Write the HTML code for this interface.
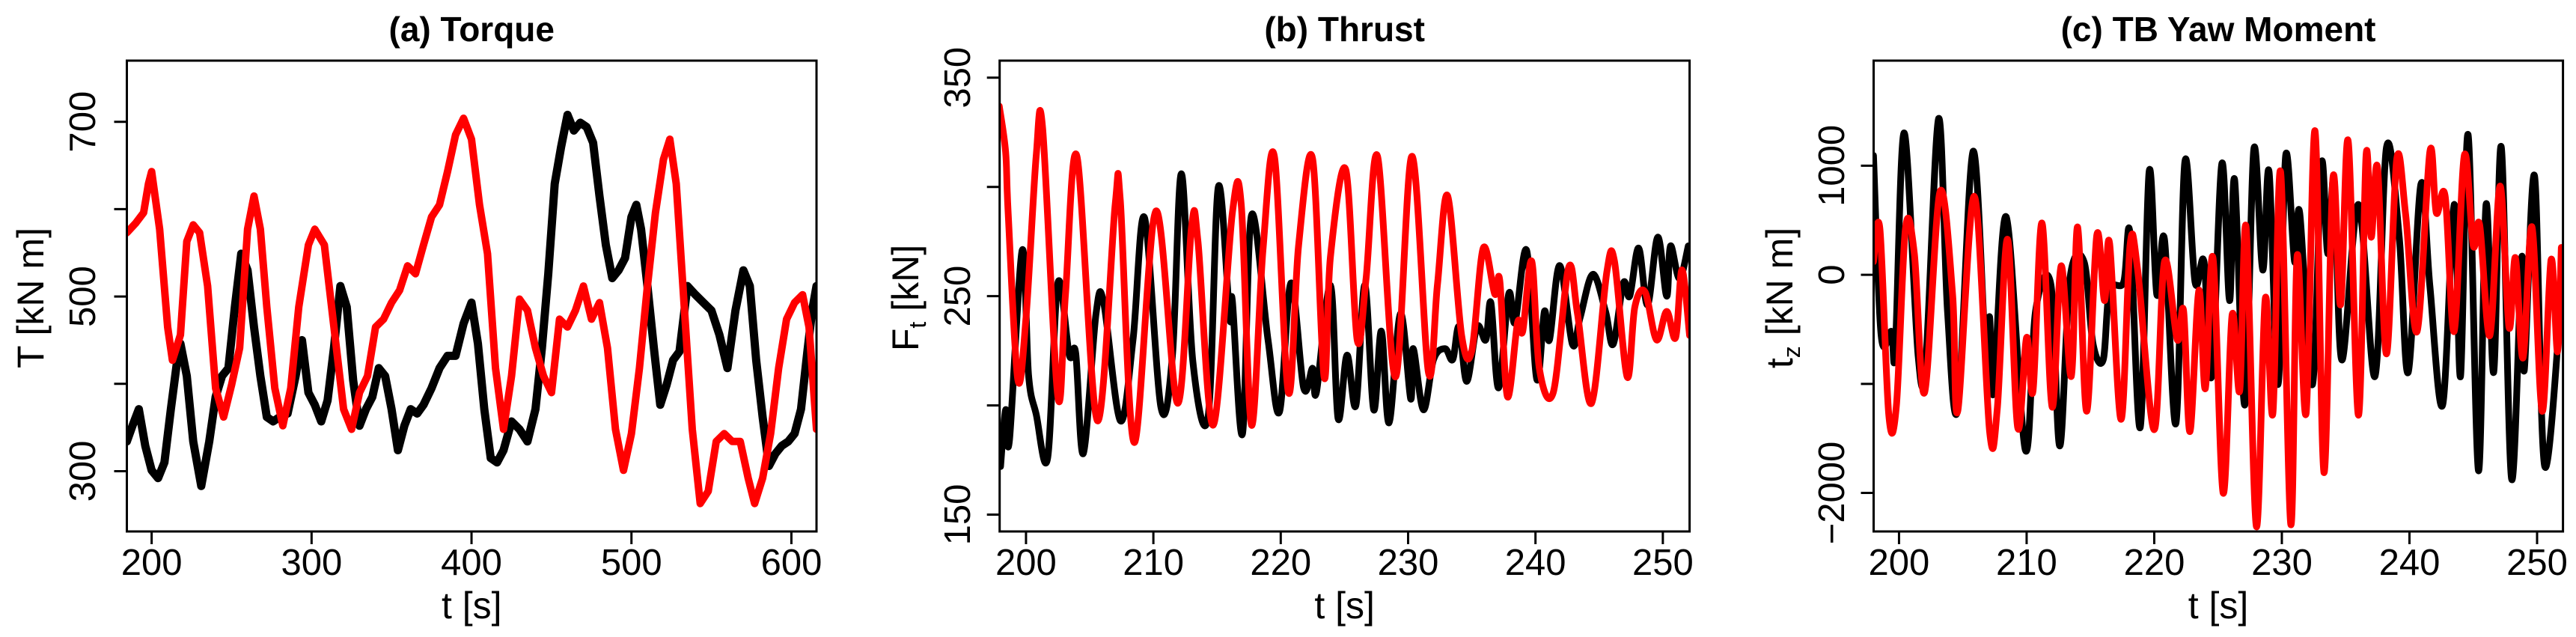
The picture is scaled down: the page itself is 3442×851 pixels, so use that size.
<!DOCTYPE html>
<html><head><meta charset="utf-8"><style>
html,body{margin:0;padding:0;background:#fff;}
svg{display:block;font-family:"Liberation Sans",Arial,sans-serif;}
</style></head><body>
<svg id="chart" width="3442" height="851" viewBox="0 0 3442 851" xmlns="http://www.w3.org/2000/svg"></svg>
<script>
// ---- Panel (a) Torque ----
const torqueRedT = [184.5,190,195,198,200,205,210,213,218,222,226,230,235,240,245,250,255,260,264,268,272,277,282,287,292,298,302,308,314,320,325,330,335,340,345,350,355,360,365,370,375,380,385,390,395,400,405,410,415,420,425,430,435,440,445,450,455,460,465,470,475,480,485,490,495,500,505,510,515,520,524,528,533,538,543,548,553,558,563,568,573,577,582,587,592,597,602,607,611,615.7];
const torqueRedV = [573,584,596,629,643,577,465,427,456,563,582,573,512,395,362,399,441,577,615,577,488,395,352,395,488,559,577,559,465,371,348,390,409,465,474,493,507,535,526,559,591,605,643,685,704,680,605,549,418,348,409,497,484,441,409,390,474,465,484,512,474,493,441,348,301,343,418,512,596,657,680,629,488,348,263,277,334,343,334,334,292,263,292,343,418,474,493,502,465,348];
const torqueBlackT = [184.5,188,192,196,200,204,208,212,216,218,222,226,231,236,240,244,248,252,256,260,264,268,272,276,280,285,290,294,298,302,306,310,314,318,322,326,330,334,338,342,346,350,354,358,362,366,370,375,380,385,390,395,400,404,408,412,416,420,425,430,435,440,444,448,452,456,460,464,468,472,476,480,484,488,492,496,500,503,506,510,514,518,522,526,530,535,540,545,550,555,560,565,570,574,578,582,586,590,594,598,602,606,610,613,615.7];
const torqueBlackV = [334,352,371,329,301,292,310,371,427,446,409,334,283,334,385,409,418,488,549,530,465,409,362,357,362,366,409,450,390,376,357,381,441,512,488,404,352,371,385,418,409,371,324,352,371,366,376,395,418,432,432,469,493,446,371,315,310,324,357,348,334,371,441,526,629,671,708,690,699,694,676,615,559,521,530,544,591,605,577,512,441,376,399,427,437,512,502,493,484,456,418,484,530,512,427,362,306,320,329,334,343,371,437,484,512];
const torqueXTicks = [200,300,400,500,600];
const torqueYTicks = [300,400,500,600,700];
const torqueYLabels = ["300","","500","","700"];

// ---- Panel (b) Thrust ----
const thrustRedT = [197.9,198.4,198.6,199.35,200,200.8,201.3,202.5,203.1,204.0,205.6,207.0,207.4,208.5,210.2,211.9,213.0,213.5,214.7,216.2,216.9,217.7,218.6,219.5,220.6,221.4,222.5,223.4,223.9,225.1,226.0,226.7,227.6,229.0,230.3,231.6,232.3,233.1,234.2,235.0,235.9,236.8,237.2,237.8,238.6,239.0,239.7,240.3,241.4,242.6,243.3,244.4,245.6,246.2,247.2,247.8,248.6,249.5,250.3,251.0,251.5,252.1];
const thrustRedV = [337,316,288,212,240,314,327,204,251,314,193,292,294,183,289,201,282,275,191,288,292,191,271,314,206,273,313,213,268,308,230,258,314,213,314,215,255,296,232,225,272,251,257,204,238,234,266,217,206,263,242,201,261,266,213,245,252,230,243,231,262,232];
const thrustBlackT = [198.0,198.4,198.7,199.7,200.2,200.8,201.7,202.5,203.4,203.9,204.5,205.5,206.1,207.4,208.4,209.3,210.6,211.5,212.2,213.1,214.3,215.1,216.0,216.2,217.0,217.7,219.0,219.9,220.8,221.8,222.5,222.8,223.9,224.5,225.2,225.9,226.6,227.3,227.9,228.5,229.4,230.2,230.4,231.2,232.0,232.9,233.5,234.0,234.6,235.4,236.1,236.5,237.1,237.9,238.4,239.3,240.1,240.7,241.1,241.9,242.9,243.5,244.5,245.5,246.1,246.9,247.4,248.1,248.8,249.6,250.3,250.6,251.3,252.0];
const thrustBlackV = [172,198,184,271,214,196,176,256,223,224,178,242,247,193,230,286,199,223,306,220,195,300,240,248,187,287,230,197,256,208,217,206,255,194,223,200,255,198,234,192,242,203,226,198,221,226,221,236,211,236,230,247,208,251,238,271,212,243,230,264,228,240,260,243,228,256,250,272,246,277,250,273,258,273];
const thrustXTicks = [200,210,220,230,240,250];
const thrustYTicks = [150,200,250,300,350];
const thrustYLabels = ["150","","250","","350"];

// ---- Panel (c) TB Yaw Moment ----
const yawBlackT = [198.0,198.6,199.4,199.7,200.4,201.5,202.1,203.1,203.8,204.6,205.8,206.8,207.1,207.4,208.4,209.9,210.7,211.9,212.6,213.4,214.5,215.2,216.0,216.5,217.6,218.1,218.9,219.6,220.2,220.8,221.7,222.4,223.2,223.9,224.5,225.3,225.9,226.3,227.1,227.8,228.5,229.0,229.7,230.3,231.0,231.4,232.4,233.1,233.6,234.1,234.7,236.0,237.3,238.2,239.2,239.9,240.9,241.6,242.6,243.5,244.0,244.6,245.4,246.0,246.6,247.2,248.0,248.8,249.0,249.8,250.6,252.0];
const yawBlackV = [1094,-557,-519,-706,1300,-744,-781,1431,-332,-1231,1131,-744,-387,-1081,531,-1606,-332,-87,-1569,-31,119,-631,-781,-144,-69,381,-1400,944,-181,326,-1362,1037,-69,119,-931,1019,-237,869,-1194,1150,44,944,-1006,1094,119,569,-1006,1019,194,869,-781,644,-931,1169,344,-894,831,-106,-1194,644,-931,1281,-1794,644,-894,1169,-1869,156,-875,906,-1756,-31];
const yawRedT = [198.0,198.5,199.2,199.8,200.5,201.2,202.0,203.2,204.2,204.6,205.9,207.1,207.7,208.5,209.3,210.0,210.5,211.2,212.0,212.7,213.5,214.0,214.7,215.5,216.1,216.5,217.4,218.1,218.7,220.0,220.8,221.8,222.3,222.8,223.5,224.0,224.6,225.4,226.1,226.7,227.2,228.0,228.7,229.3,229.9,230.7,231.2,231.9,232.6,233.3,234.0,234.6,235.2,236.0,236.6,237.0,237.5,238.2,239.0,239.7,240.6,241.6,242.1,242.8,243.5,244.3,245.0,245.5,246.3,247.1,247.8,248.3,248.9,249.6,250.4,251.1,251.6,251.9];
const yawRedV = [119,419,-1287,-1194,419,194,-1081,756,-181,-1250,719,-1437,-1231,326,-1400,-576,-1062,475,-1212,81,-931,437,-1250,363,-237,288,-1325,269,44,-1419,119,-594,-332,-1437,-144,-1044,156,-2000,-369,-1062,437,-2306,-219,-1269,944,-2287,175,-1269,1319,-1812,887,-275,1225,-1287,1094,344,981,-725,1056,550,-519,1131,569,719,-519,1094,269,456,-557,813,-481,156,-762,437,-1250,138,-706,250];
const yawXTicks = [200,210,220,230,240,250];
const yawYTicks = [-2000,-1000,0,1000];
const yawYLabels = ["\u22122000","","0","1000"];

const NS = "http://www.w3.org/2000/svg";
const svg = document.getElementById('chart');
function mk(tag, attrs, parent) {
  const e = document.createElementNS(NS, tag);
  for (const k in attrs) e.setAttribute(k, attrs[k]);
  (parent || svg).appendChild(e);
  return e;
}
function smoothPath(pts) {
  let d = "M" + pts[0][0].toFixed(1) + "," + pts[0][1].toFixed(1);
  for (let i = 0; i < pts.length - 1; i++) {
    const p0 = pts[i - 1] || pts[i], p1 = pts[i], p2 = pts[i + 1], p3 = pts[i + 2] || p2;
    const c1x = p1[0] + (p2[0] - p0[0]) / 6, c1y = p1[1] + (p2[1] - p0[1]) / 6;
    const c2x = p2[0] - (p3[0] - p1[0]) / 6, c2y = p2[1] - (p3[1] - p1[1]) / 6;
    d += "C" + c1x.toFixed(1) + "," + c1y.toFixed(1) + " " + c2x.toFixed(1) + "," + c2y.toFixed(1) + " " + p2[0].toFixed(1) + "," + p2[1].toFixed(1);
  }
  return d;
}
function linePath(pts) {
  return pts.map((p, i) => (i ? "L" : "M") + p[0].toFixed(1) + "," + p[1].toFixed(1)).join("");
}

function panel(cfg) {
  const g = mk('g', {});
  
  
  const L = cfg.left, R = cfg.right, T = 81, B = 710;
  const xs = v => L + (v - cfg.xmin) / (cfg.xmax - cfg.xmin) * (R - L);
  const ys = v => B - (v - cfg.ymin) / (cfg.ymax - cfg.ymin) * (B - T);
  const cid = 'clip-' + cfg.name;
  const cp = mk('clipPath', { id: cid }, g);
  mk('rect', { x: L, y: T, width: R - L, height: B - T }, cp);

  cfg.series.forEach(s => {
    const pts = s.t.map((t, i) => [xs(t), ys(s.v[i])]);
    const p = mk('path', { d: s.smooth ? smoothPath(pts) : linePath(pts), fill: 'none', stroke: s.color, 'stroke-width': s.w, 'stroke-linejoin': 'round', 'stroke-linecap': 'round', 'clip-path': 'url(#' + cid + ')' }, g);
    
    
  });

  const fr = mk('rect', { x: L, y: T, width: R - L, height: B - T, fill: 'none', stroke: '#000', 'stroke-width': 3 }, g);
  
  

  cfg.xticks.forEach(v => {
    const x = xs(v);
    const tk = mk('line', { x1: x, y1: B, x2: x, y2: B + 17, stroke: '#000', 'stroke-width': 3 }, g);
    
    
    const tx = mk('text', { x: x, y: 768, 'font-size': 49, 'text-anchor': 'middle' }, g);
    tx.textContent = String(v);
    
    
  });
  cfg.yticks.forEach((v, i) => {
    const y = ys(v);
    const tk = mk('line', { x1: L, y1: y, x2: L - 17, y2: y, stroke: '#000', 'stroke-width': 3 }, g);
    
    
    if (cfg.ylabels[i]) {
      const tx = mk('text', { x: 0, y: 0, 'font-size': 49, 'text-anchor': 'middle', transform: 'translate(' + (cfg.ylabX + 17) + ',' + y + ') rotate(-90)' }, g);
      tx.textContent = cfg.ylabels[i];
      
      
    }
  });
  const ti = mk('text', { x: (L + R) / 2, y: 55, 'font-size': 46, 'font-weight': 'bold', 'text-anchor': 'middle' }, g);
  ti.textContent = cfg.title;
  
  
  const xt = mk('text', { x: (L + R) / 2, y: 826, 'font-size': 50, 'text-anchor': 'middle' }, g);
  xt.textContent = 't [s]';
  
  
  const yt = mk('text', { x: 0, y: 0, 'font-size': 50, 'text-anchor': 'middle', transform: 'translate(' + (cfg.ytitX + 18) + ',398) rotate(-90)' }, g);
  
  
  const a = mk('tspan', {}, yt); a.textContent = cfg.ytitle[0];
  if (cfg.ytitle[1]) {
    const s = mk('tspan', { 'font-size': 32, dy: 10 }, yt); s.textContent = cfg.ytitle[1];
    const r = mk('tspan', { dy: -10 }, yt); r.textContent = cfg.ytitle[2];
  }
}

panel({ name: 'torque-panel', title: '(a) Torque', left: 169.5, right: 1091, xmin: 184.5, xmax: 615.7, ymin: 231, ymax: 770,
  xticks: torqueXTicks, yticks: torqueYTicks, ylabels: torqueYLabels, ylabX: 110, ytitX: 40, ytitle: ['T [kN m]'],
  series: [
    { name: 'torque-black-series', t: torqueBlackT, v: torqueBlackV, color: '#000', w: 11, smooth: false },
    { name: 'torque-red-series', t: torqueRedT, v: torqueRedV, color: '#ff0000', w: 10, smooth: false }
  ] });
panel({ name: 'thrust-panel', title: '(b) Thrust', left: 1335.7, right: 2257.6, xmin: 197.93, xmax: 252.1, ymin: 142.3, ymax: 357.8,
  xticks: thrustXTicks, yticks: thrustYTicks, ylabels: thrustYLabels, ylabX: 1279, ytitX: 1209, ytitle: ['F', 't', ' [kN]'],
  series: [
    { name: 'thrust-black-series', t: thrustBlackT, v: thrustBlackV, color: '#000', w: 9, smooth: true },
    { name: 'thrust-red-series', t: thrustRedT, v: thrustRedV, color: '#ff0000', w: 9, smooth: true }
  ] });
panel({ name: 'yaw-panel', title: '(c) TB Yaw Moment', left: 2503.5, right: 3424.6, xmin: 198.01, xmax: 252.03, ymin: -2353, ymax: 1963,
  xticks: yawXTicks, yticks: yawYTicks, ylabels: yawYLabels, ylabX: 2447, ytitX: 2377, ytitle: ['t', 'z', ' [kN m]'],
  series: [
    { name: 'yaw-black-series', t: yawBlackT, v: yawBlackV, color: '#000', w: 9, smooth: true },
    { name: 'yaw-red-series', t: yawRedT, v: yawRedV, color: '#ff0000', w: 9, smooth: true }
  ] });
</script>
</body></html>
